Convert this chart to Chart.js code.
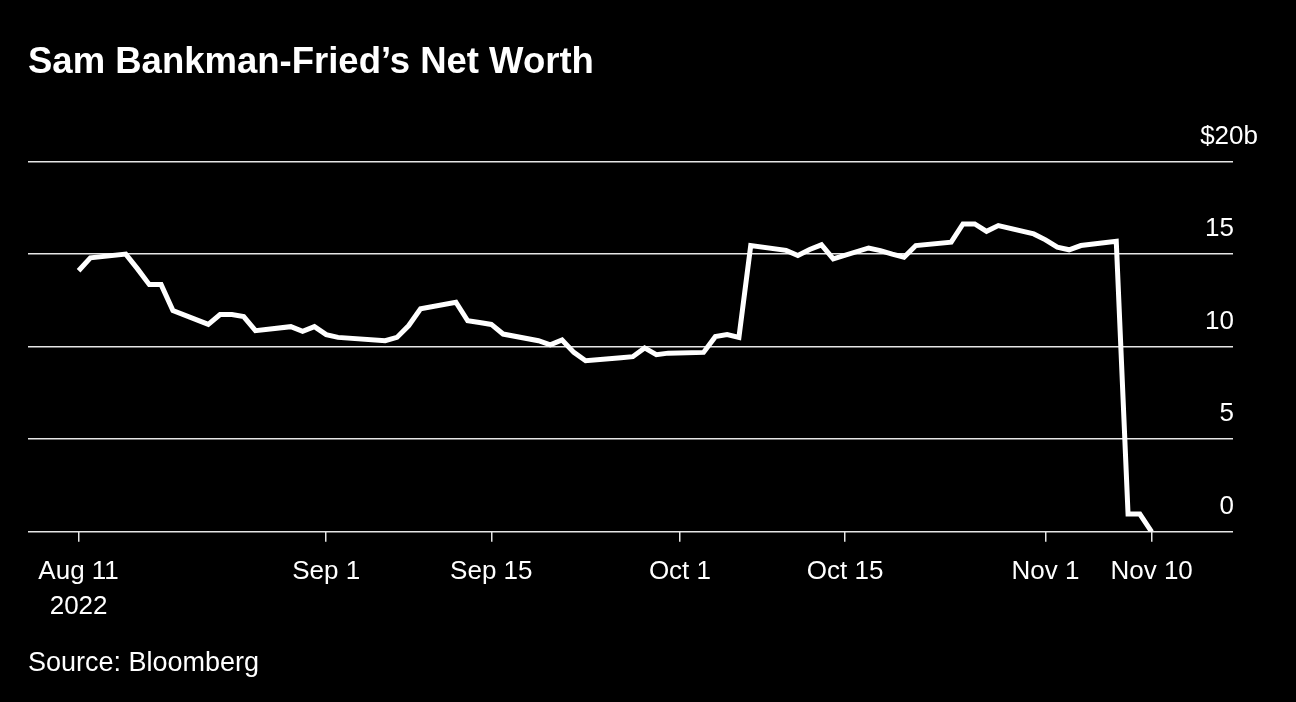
<!DOCTYPE html>
<html>
<head>
<meta charset="utf-8">
<script src="https://cdn.jsdelivr.net/npm/chart.js@4"></script>
<style>
  html, body { margin: 0; padding: 0; background: #000; }
  .chart-wrap { width: 1296px; height: 702px; position: relative; }
</style>
</head>
<body>
<div class="chart-wrap"><canvas id="worthChart"></canvas></div>
<script>
// trading days
const dates = [
    '2022-08-11', '2022-08-12', '2022-08-15', '2022-08-16', '2022-08-17', '2022-08-18', '2022-08-19',
    '2022-08-22', '2022-08-23', '2022-08-24', '2022-08-25', '2022-08-26',
    '2022-08-29', '2022-08-30', '2022-08-31', '2022-09-01', '2022-09-02',
    '2022-09-06', '2022-09-07', '2022-09-08', '2022-09-09',
    '2022-09-12', '2022-09-13', '2022-09-14', '2022-09-15', '2022-09-16',
    '2022-09-19', '2022-09-20', '2022-09-21', '2022-09-22', '2022-09-23',
    '2022-09-26', '2022-09-27', '2022-09-28', '2022-09-29', '2022-09-30',
    '2022-10-03', '2022-10-04', '2022-10-05', '2022-10-06', '2022-10-07',
    '2022-10-10', '2022-10-11', '2022-10-12', '2022-10-13', '2022-10-14',
    '2022-10-17', '2022-10-18', '2022-10-19', '2022-10-20', '2022-10-21',
    '2022-10-24', '2022-10-25', '2022-10-26', '2022-10-27', '2022-10-28',
    '2022-10-31', '2022-11-01', '2022-11-02', '2022-11-03', '2022-11-04',
    '2022-11-07', '2022-11-08', '2022-11-09', '2022-11-10'
];

// net worth, $ billions
const netWorth = [
    14.1, 14.8, 15.0, 14.2, 13.35, 13.35, 11.95,
    11.2, 11.73, 11.73, 11.62, 10.86,
    11.08, 10.83, 11.08, 10.65, 10.5,
    10.32, 10.5, 11.14, 12.04,
    12.4, 11.4, 11.3, 11.2, 10.68,
    10.32, 10.1, 10.36, 9.69, 9.24,
    9.4, 9.46, 9.93, 9.57, 9.65,
    9.69, 10.54, 10.65, 10.5, 15.46,
    15.2, 14.92, 15.25, 15.5, 14.74,
    15.33, 15.19, 15.0, 14.83, 15.46,
    15.64, 16.63, 16.63, 16.23, 16.54,
    16.09, 15.77, 15.37, 15.23, 15.46,
    15.69, 0.96, 0.96, 0
];

const xTickDates = ['2022-08-11', '2022-09-01', '2022-09-15', '2022-10-01', '2022-10-15', '2022-11-01', '2022-11-10'];
const xTickLabels = [['Aug 11', '2022'], 'Sep 1', 'Sep 15', 'Oct 1', 'Oct 15', 'Nov 1', 'Nov 10'];
const yTickValues = [0, 5, 10, 15, 20];
const yTickLabels = ['0', '5', '10', '15', '$20b'];

const DAY = 86400000;
const startMs = Date.parse(dates[0]);
const toDay = d => (Date.parse(d) - startMs) / DAY;

const points = dates.map((d, i) => ({ x: toDay(d), y: netWorth[i] }));
const xTickDays = xTickDates.map(toDay);

const FONT = '"Liberation Sans", Arial, Helvetica, sans-serif';

// y labels sit above their gridlines, right-aligned at the end of the lines
const yLabelPlugin = {
    id: 'yLabels',
    afterDraw(chart) {
        const ctx = chart.ctx;
        const yScale = chart.scales.y;
        const right = chart.chartArea.right;
        ctx.save();
        ctx.font = '26px ' + FONT;
        ctx.fillStyle = '#fff';
        ctx.textAlign = 'right';
        ctx.textBaseline = 'alphabetic';
        yTickValues.forEach((v, i) => {
            const py = yScale.getPixelForValue(v);
            const label = yTickLabels[i];
            const x = label.startsWith('$') ? right + 25 : right + 1;
            ctx.fillText(label, x, py - 18);
        });
        ctx.restore();
    }
};

Chart.defaults.font.family = FONT;
Chart.defaults.color = '#fff';

const ctx = document.getElementById('worthChart').getContext('2d');
new Chart(ctx, {
    type: 'line',
    data: {
        datasets: [{
            label: 'Net worth',
            data: points,
            borderColor: '#fff',
            borderWidth: 5,
            borderJoinStyle: 'miter',
            borderCapStyle: 'butt',
            pointRadius: 0,
            tension: 0,
            fill: false
        }]
    },
    options: {
        responsive: true,
        maintainAspectRatio: false,
        animation: false,
        layout: { padding: { left: 28, right: 63, top: 0, bottom: 22.6 } },
        plugins: {
            legend: { display: false },
            tooltip: { enabled: false },
            title: {
                display: true,
                text: 'Sam Bankman-Fried\u2019s Net Worth',
                align: 'start',
                color: '#fff',
                font: { size: 36.5, weight: 'bold', lineHeight: 1.2 },
                padding: { top: 41.5, bottom: 76.2 }
            },
            subtitle: {
                display: true,
                position: 'bottom',
                text: 'Source: Bloomberg',
                align: 'start',
                color: '#fff',
                font: { size: 27, lineHeight: 1.2 },
                padding: { top: 11, bottom: 0 }
            }
        },
        scales: {
            x: {
                type: 'linear',
                min: -4.29,
                max: 97.9,
                border: { display: false },
                grid: {
                    drawOnChartArea: false,
                    drawTicks: true,
                    tickLength: 10,
                    color: '#e6e6e6',
                    lineWidth: 1.5
                },
                afterBuildTicks: scale => {
                    scale.ticks = xTickDays.map(v => ({ value: v }));
                },
                ticks: {
                    autoSkip: false,
                    maxRotation: 0,
                    padding: 12,
                    color: '#fff',
                    font: { size: 26, lineHeight: 1.35 },
                    callback: value => {
                        const idx = xTickDays.indexOf(value);
                        return idx >= 0 ? xTickLabels[idx] : '';
                    }
                }
            },
            y: {
                position: 'right',
                min: 0,
                max: 20,
                border: { display: false },
                grid: {
                    drawTicks: false,
                    color: '#e6e6e6',
                    lineWidth: 1.5
                },
                afterBuildTicks: scale => {
                    scale.ticks = yTickValues.map(v => ({ value: v }));
                },
                ticks: { display: false }
            }
        }
    },
    plugins: [yLabelPlugin]
});
</script>
</body>
</html>
